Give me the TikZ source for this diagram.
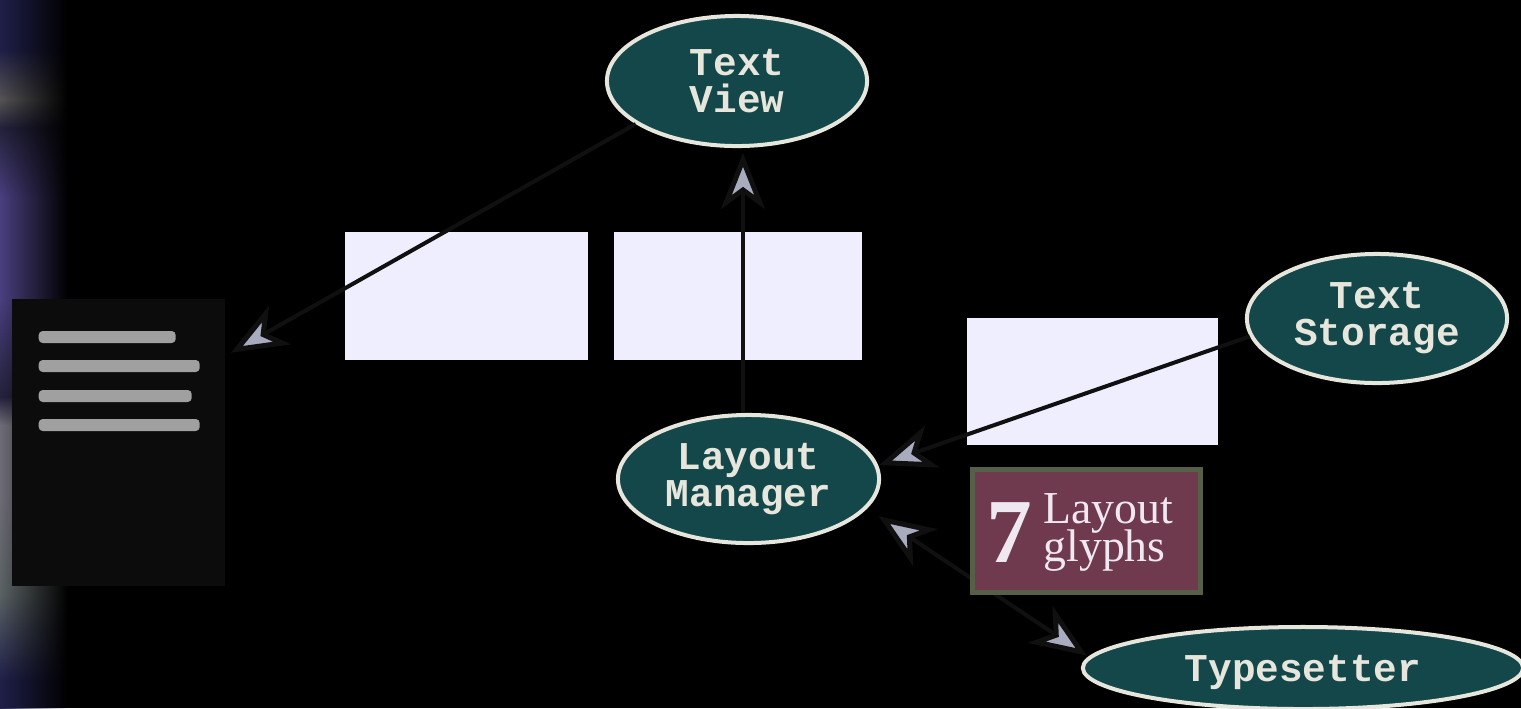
\documentclass[tikz,border=0pt]{standalone}
\usepackage{fontspec}
\usetikzlibrary{arrows.meta, fadings, shapes.geometric}
\setmainfont{Liberation Serif}
\newfontfamily\slabfont{Liberation Mono}
\definecolor{ovalfill}{HTML}{14474A}
\definecolor{ovalline}{HTML}{E6E6DC}
\definecolor{panelfill}{HTML}{EEEEFE}
\definecolor{pagefill}{HTML}{0C0C0C}
\definecolor{rulefill}{HTML}{A0A0A0}
\definecolor{tipfill}{HTML}{A9ACBF}
\definecolor{tipline}{HTML}{101010}
\definecolor{badgefill}{HTML}{6F3A4E}
\definecolor{badgeline}{HTML}{566048}
\definecolor{badgetext}{HTML}{F0E8F0}
\definecolor{stripnavy}{HTML}{20204A}
\definecolor{stripteal}{HTML}{5A6264}
\definecolor{stripgrey}{HTML}{6E6C76}
\definecolor{stripdark}{HTML}{24223C}
\definecolor{strippurple}{HTML}{4A4080}
\definecolor{stripash}{HTML}{565454}
% the picture only shows the middle of the shading, 25bp to 75bp
\pgfdeclareverticalshading{stripshade}{100bp}{%
  color(0bp)=(stripnavy);
  color(27bp)=(stripnavy);
  color(33bp)=(stripteal);
  color(40bp)=(stripgrey);
  color(45bp)=(stripgrey);
  color(47bp)=(stripdark);
  color(54bp)=(strippurple);
  color(61bp)=(strippurple);
  color(66bp)=(stripdark);
  color(68bp)=(stripash);
  color(71.5bp)=(stripnavy);
  color(100bp)=(stripnavy)}
\tikzfading[name=stripfade, left color=transparent!0, middle color=transparent!15, right color=transparent!100]
\def\pxlw{0.04cm}

\begin{document}
\begin{tikzpicture}[x=0.01cm,y=-0.01cm,>={Stealth[length=0.56cm,width=0.44cm,inset=0.16cm,fill=tipfill,line width=0.05cm]}]
    \tikzstyle{oval}=[ellipse,fill=ovalfill,draw=ovalline,line width=\pxlw,inner sep=0pt,text=ovalline,align=center,font=\slabfont\bfseries\fontsize{11.2}{10.5}\selectfont]
    \tikzstyle{panel}=[rectangle,fill=panelfill,inner sep=0pt,outer sep=0pt]
    \tikzstyle{page rule}=[rectangle,rounded corners=0.04cm,fill=rulefill,inner sep=0pt,minimum height=0.12cm]
    \tikzstyle{link}=[draw=tipline,line width=\pxlw]

    % Draw the background and the strip on the left
    \fill[black] (0,0) rectangle (1521,708);
    \useasboundingbox (0,0) rectangle (1521,708);
    \path[shading=stripshade,path fading=stripfade] (0,0) rectangle (68,708);

    % Draw the page with its rules
    \node[rectangle,fill=pagefill,inner sep=0pt,minimum width=2.13cm,minimum height=2.87cm] (page) at (118.5,442.5) {};
    \foreach \name / \y / \len in {1/337/137,2/366/161,3/396/153,4/425/161}
        \node[page rule,minimum width=\len*0.01cm,anchor=west] (rule-\name) at (38,\y) {};

    % Draw the panels
    \node[panel,minimum width=2.43cm,minimum height=1.28cm] (panel-1) at (466.5,296) {};
    \node[panel,minimum width=2.48cm,minimum height=1.28cm] (panel-2) at (738,296) {};
    \node[panel,minimum width=2.51cm,minimum height=1.27cm] (panel-3) at (1092.5,381.5) {};

    % Draw the ovals
    \node[oval,minimum width=2.60cm,minimum height=1.30cm] (view) at (737,81) {Text\\View};
    \node[oval,minimum width=2.60cm,minimum height=1.29cm] (storage) at (1377,318.5) {Text\\Storage};
    \node[oval,minimum width=2.61cm,minimum height=1.28cm] (manager) at (748.5,479) {Layout\\Manager};
    \node[oval,minimum width=4.40cm,minimum height=0.82cm] (setter) at (1303,668) {\raisebox{-0.04cm}[\height][\depth]{Typesetter}};

    % Connect the ovals
    \coordinate (riser) at (743,0);
    \draw[link,->,shorten >=0.06cm] (view.203) -- (page.39);
    \draw[link,->,shorten >=0.05cm] (manager.north -| riser) -- (view.south -| riser);
    \draw[link,->,shorten >=0.01cm] (storage.188) -- (manager.6);
    \draw[link,<->,shorten <=0.14cm,shorten >=0.02cm] (manager.-14) -- (setter.177);

    % Draw the badge on top of the last link
    \node[rectangle,fill=badgefill,draw=badgeline,line width=0.05cm,inner sep=0pt,minimum width=2.28cm,minimum height=1.23cm] (badge) at (1086.5,531) {};
    \node[text=badgetext,inner sep=0pt,font=\bfseries\fontsize{26}{26}\selectfont] (badge-num) at (1009,533) {7};
    \node[text=badgetext,inner sep=0pt,align=left,anchor=west,font=\fontsize{13}{10.2}\selectfont] (badge-text) at (1043,532) {Layout\\[-0.07cm]glyphs};
\end{tikzpicture}
\end{document}
